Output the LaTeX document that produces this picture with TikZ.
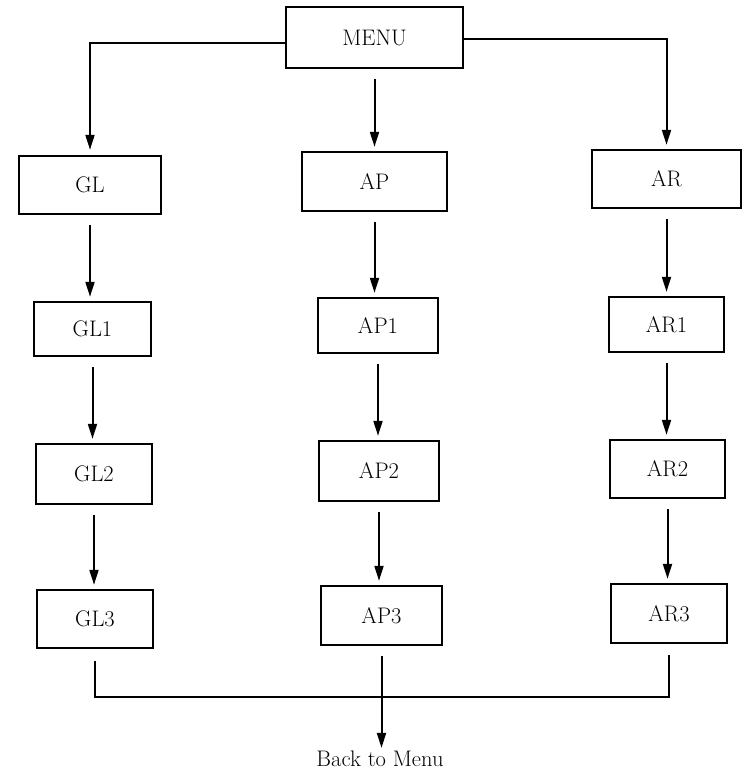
\documentclass[tikz,border=0pt]{standalone}
\usetikzlibrary{arrows.meta}
\begin{document}
\begin{tikzpicture}[x=1pt,y=-1pt,
  box/.style={draw,line width=2.4pt,inner sep=0pt,font=\fontsize{22.5}{27}\selectfont},
  conn/.style={line width=2pt},
  arr/.style={conn,-{Triangle[length=15pt,width=9pt]}},
  gap/.style={shorten <=10pt,shorten >=4pt}]
\useasboundingbox (0,0) rectangle (743,771);
\node[box,minimum width=177pt,minimum height=61pt] (MENU) at (374.5,37.5) {MENU};
\node[box,minimum width=142pt,minimum height=58pt] (GL) at (90,185) {GL};
\node[box,minimum width=145pt,minimum height=59pt] (AP) at (374.5,181.5) {AP};
\node[box,minimum width=149pt,minimum height=58pt] (AR) at (666.5,179) {AR};
\node[box,minimum width=117pt,minimum height=54pt] (GL1) at (92.5,329) {GL1};
\node[box,minimum width=120pt,minimum height=55pt] (AP1) at (378,325.5) {AP1};
\node[box,minimum width=115pt,minimum height=55pt] (AR1) at (666.5,324.5) {AR1};
\node[box,minimum width=116pt,minimum height=60pt] (GL2) at (94,474) {GL2};
\node[box,minimum width=120pt,minimum height=60pt] (AP2) at (379,471) {AP2};
\node[box,minimum width=115pt,minimum height=58pt] (AR2) at (667.5,469) {AR2};
\node[box,minimum width=116pt,minimum height=58pt] (GL3) at (95,619) {GL3};
\node[box,minimum width=121pt,minimum height=59pt] (AP3) at (381.5,615.5) {AP3};
\node[box,minimum width=116pt,minimum height=59pt] (AR3) at (669,613.5) {AR3};
\node[inner sep=1pt,font=\fontsize{22.5}{27}\selectfont] (back) at (380,759) {Back to Menu};
\coordinate (bus) at (380,697);
% from MENU
\draw[arr,shorten >=5pt] ([yshift=-5.5pt]MENU.west) -| (GL.north);
\draw[arr,shorten >=4pt] ([yshift=-1.5pt]MENU.east) -| (AR.north);
\draw[arr,gap] (MENU.south -| AP.north) -- (AP.north);
% columns
\foreach \c in {GL,AP,AR}{
  \draw[arr,gap] (\c.south) -- (\c.south |- \c1.north);
  \draw[arr,gap] (\c1.south) -- (\c1.south |- \c2.north);
  \draw[arr,gap] (\c2.south) -- (\c2.south |- \c3.north);
}
% back to menu
\draw[conn] ([yshift=-12pt]GL3.south) |- (bus) -| ([yshift=-11pt]AR3.south);
\draw[arr,shorten <=10pt,shorten >=2pt] (AP3.south) -- (AP3.south |- back.north);
\end{tikzpicture}
\end{document}
